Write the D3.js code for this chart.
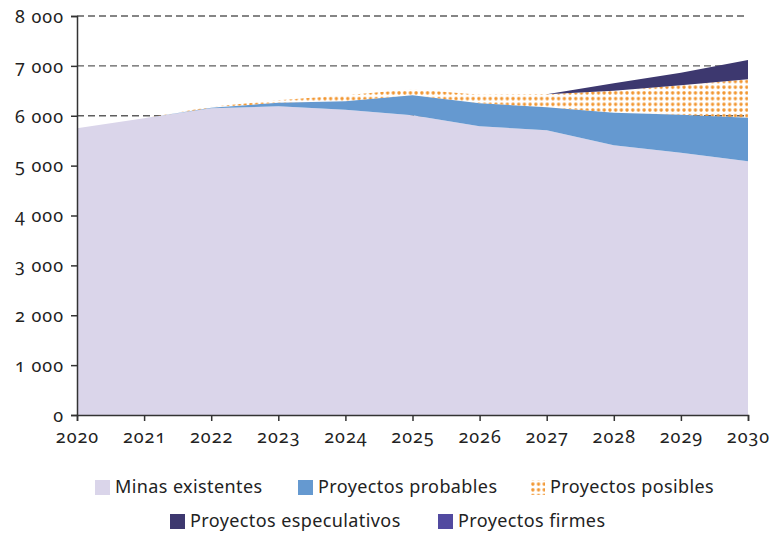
<!DOCTYPE html>
<html>
<head>
<meta charset="utf-8">
<script src="https://cdn.jsdelivr.net/npm/d3@7"></script>
<style>
    body { margin: 0; background: #fff; }
    text { font-family: "Noto Sans", sans-serif; fill: #222; font-feature-settings: "onum"; }
</style>
</head>
<body>
<div id="chart"></div>
<script>
// data
var years = [2020, 2021, 2022, 2023, 2024, 2025, 2026, 2027, 2028, 2029, 2030];
var minasExistentes = [5750, 5950, 6150, 6190, 6120, 6010, 5790, 5710, 5410, 5260, 5090];
var proyectosFirmes = [0, 0, 0, 0, 0, 0, 0, 0, 0, 0, 0];
var proyectosProbables = [0, 0, 10, 70, 170, 400, 460, 460, 650, 760, 870];
var proyectosPosibles = [0, 0, 20, 50, 120, 120, 170, 260, 440, 590, 770];
var proyectosEspeculativos = [0, 0, 0, 0, 0, 0, 0, 0, 150, 250, 390];
var yTicks = [0, 1000, 2000, 3000, 4000, 5000, 6000, 7000, 8000];

var series = [
    { key: "existentes", name: "Minas existentes", values: minasExistentes, fill: "#dad5ea" },
    { key: "firmes", name: "Proyectos firmes", values: proyectosFirmes, fill: "#524aa0" },
    { key: "probables", name: "Proyectos probables", values: proyectosProbables, fill: "#6599d0" },
    { key: "posibles", name: "Proyectos posibles", values: proyectosPosibles, fill: "url(#dots)" },
    { key: "especulativos", name: "Proyectos especulativos", values: proyectosEspeculativos, fill: "#3d386f" }
];

var svgWidth = 771;
var svgHeight = 536;
var margin = { top: 16, right: 23, bottom: 121, left: 77 };
var width = svgWidth - margin.left - margin.right;
var height = svgHeight - margin.top - margin.bottom;

var svg = d3.select("#chart")
    .append("svg")
    .attr("width", svgWidth)
    .attr("height", svgHeight);

// dotted pattern for "posibles"
var pattern = svg.append("defs")
    .append("pattern")
    .attr("id", "dots")
    .attr("patternUnits", "userSpaceOnUse")
    .attr("width", 5.7)
    .attr("height", 5.7);
pattern.append("rect")
    .attr("x", 1.3).attr("y", 1.3)
    .attr("width", 3.1).attr("height", 3.1)
    .attr("rx", 1.1)
    .attr("fill", "#f29630");

var chartGroup = svg.append("g")
    .attr("transform", `translate(${margin.left}, ${margin.top})`);

var xScale = d3.scaleLinear()
    .domain([2020, 2030])
    .range([0, width]);

var yScale = d3.scaleLinear()
    .domain([0, 8000])
    .range([height, 0]);

// gridlines
chartGroup.append("g")
    .selectAll("line")
    .data(yTicks.filter(d => d > 0))
    .enter()
    .append("line")
    .attr("x1", 0)
    .attr("x2", width)
    .attr("y1", d => yScale(d))
    .attr("y2", d => yScale(d))
    .attr("stroke", "#5e5e5e")
    .attr("stroke-width", 1.3)
    .attr("stroke-dasharray", "7,4");

// stacked areas
var table = years.map(function (yr, i) {
    var row = { year: yr };
    series.forEach(s => row[s.key] = s.values[i]);
    return row;
});

var stack = d3.stack().keys(series.map(s => s.key));
var layers = stack(table);

var area = d3.area()
    .x(d => xScale(d.data.year))
    .y0(d => yScale(d[0]))
    .y1(d => yScale(d[1]));

chartGroup.selectAll(".layer")
    .data(layers)
    .enter()
    .append("path")
    .attr("class", "layer")
    .attr("d", area)
    .attr("fill", (d, i) => series[i].fill);

// axes
var leftAxis = d3.axisLeft(yScale)
    .tickValues(yTicks)
    .tickSize(6)
    .tickFormat(d => d3.format(",")(d).replace(",", " "));

var bottomAxis = d3.axisBottom(xScale)
    .tickValues(years)
    .tickSize(6)
    .tickFormat(d3.format("d"));

var yAxis = chartGroup.append("g")
    .call(leftAxis);

var xAxis = chartGroup.append("g")
    .attr("transform", `translate(0, ${height})`)
    .call(bottomAxis);

[xAxis, yAxis].forEach(function (ax) {
    ax.select(".domain").attr("stroke", "#333").attr("stroke-width", 1.5);
    ax.selectAll(".tick line").attr("stroke", "#333").attr("stroke-width", 1.5);
    ax.selectAll(".tick text")
        .attr("font-size", "18px")
        .attr("letter-spacing", "1px")
        .attr("fill", "#222");
});
yAxis.selectAll(".tick text").attr("x", -13).attr("dy", "0.35em");
xAxis.selectAll(".tick text").attr("y", 12).attr("dy", "0.9em");

// legend
var legendItems = [
    { s: series[0], x: 95, y: 487 },
    { s: series[2], x: 298, y: 487 },
    { s: series[3], x: 530, y: 487 },
    { s: series[4], x: 170, y: 521 },
    { s: series[1], x: 438, y: 521 }
];

var legend = svg.append("g");
legendItems.forEach(function (item) {
    var g = legend.append("g")
        .attr("transform", `translate(${item.x}, ${item.y})`);
    g.append("rect")
        .attr("x", 0).attr("y", -7)
        .attr("width", 15).attr("height", 15)
        .attr("fill", item.s.fill);
    g.append("text")
        .attr("x", 20)
        .attr("y", 0)
        .attr("dy", "0.35em")
        .attr("font-size", "18px")
        .attr("letter-spacing", "0.4px")
        .text(item.s.name);
});
</script>
</body>
</html>
